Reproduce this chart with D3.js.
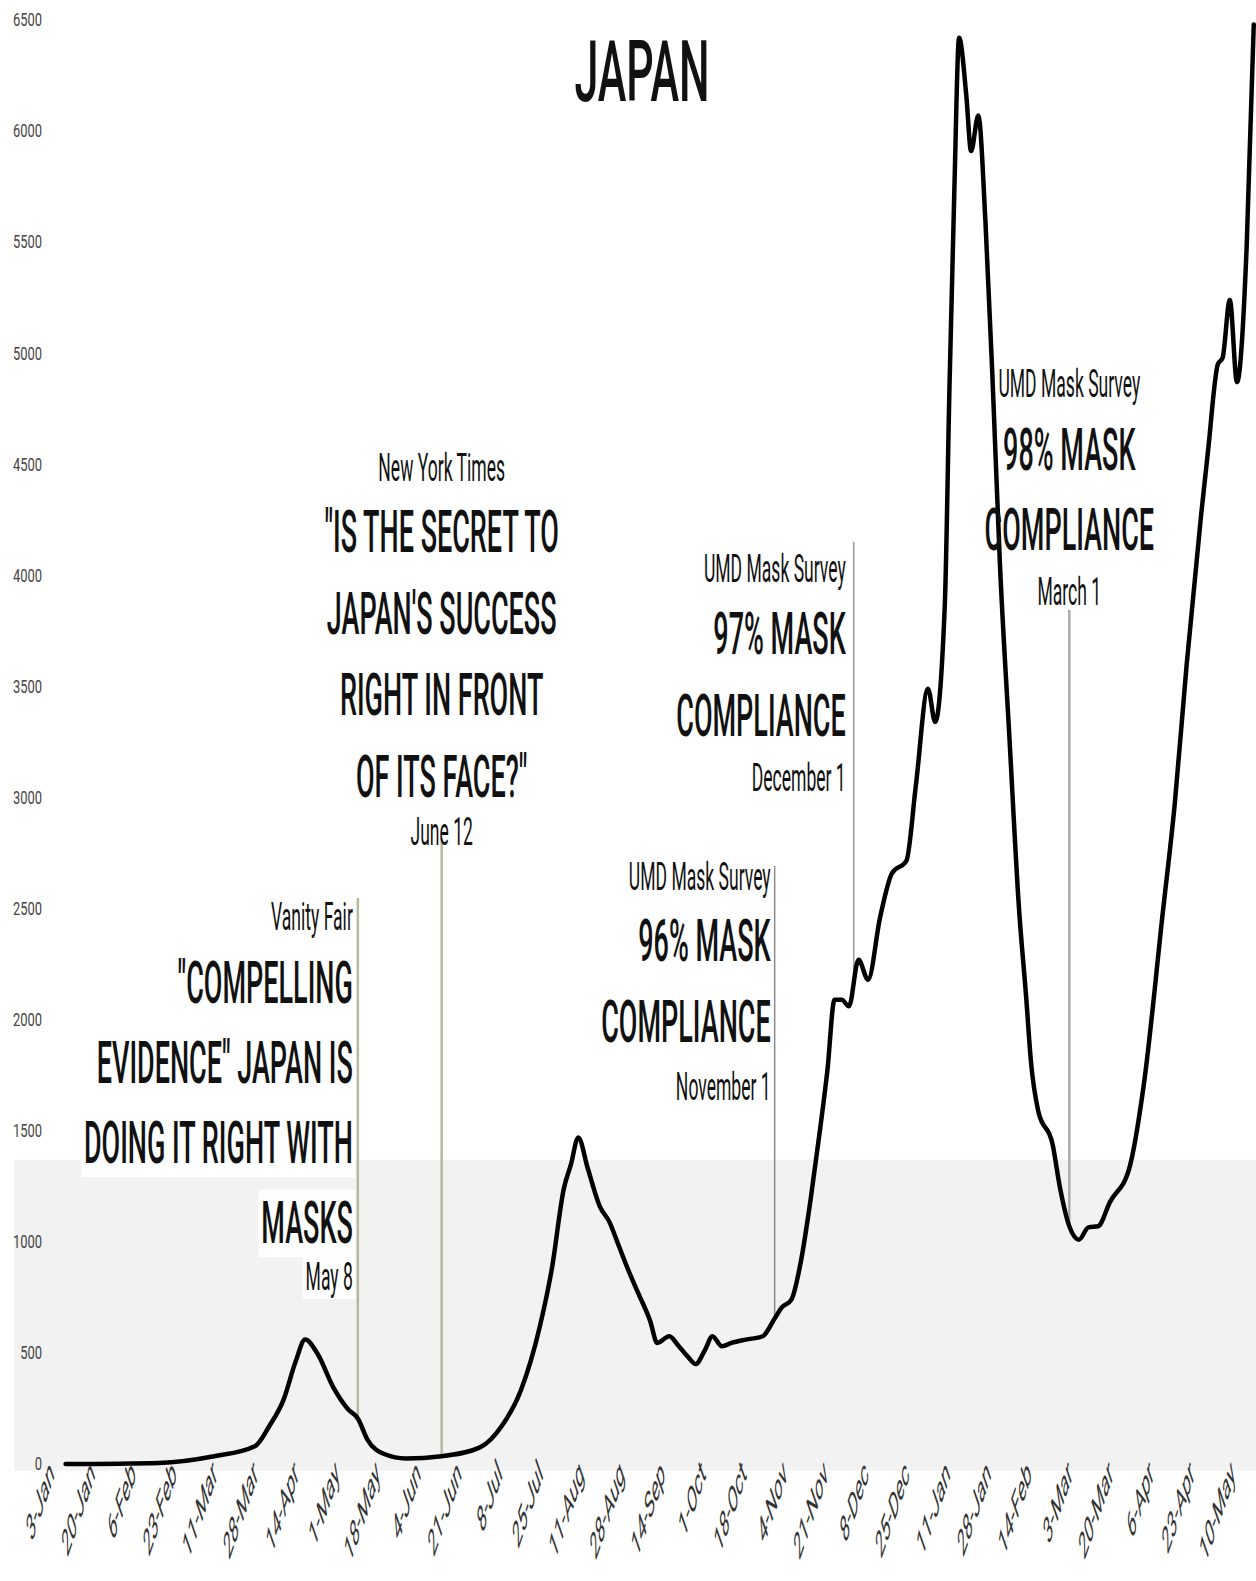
<!DOCTYPE html>
<html>
<head>
<meta charset="utf-8">
<script src="https://cdn.jsdelivr.net/npm/d3@7"></script>
<style>
  body { margin: 0; background: #fff; }
  svg { display: block; font-family: Roboto, "Noto Sans", sans-serif; }
</style>
</head>
<body>
<svg id="chart"></svg>
<script>
// daily new cases, 7-day average
const dates = [
  "2020-01-07", "2020-02-15", "2020-03-09", "2020-03-26", "2020-04-01", "2020-04-07", "2020-04-12", "2020-04-16",
  "2020-04-21", "2020-04-28", "2020-05-04", "2020-05-08", "2020-05-12", "2020-05-19", "2020-05-28", "2020-06-12",
  "2020-06-28", "2020-07-07", "2020-07-15", "2020-07-23", "2020-07-28", "2020-08-02", "2020-08-05", "2020-08-08",
  "2020-08-12", "2020-08-17", "2020-08-21", "2020-08-25", "2020-08-29", "2020-09-02", "2020-09-07", "2020-09-10",
  "2020-09-15", "2020-09-19", "2020-09-23", "2020-09-26", "2020-09-30", "2020-10-03", "2020-10-07", "2020-10-11",
  "2020-10-17", "2020-10-24", "2020-10-29", "2020-11-01", "2020-11-05", "2020-11-09", "2020-11-13", "2020-11-17",
  "2020-11-20", "2020-11-23", "2020-11-26", "2020-11-29", "2020-12-03", "2020-12-07", "2020-12-12", "2020-12-17",
  "2020-12-23", "2020-12-27", "2021-01-01", "2021-01-04", "2021-01-08", "2021-01-10", "2021-01-12", "2021-01-14",
  "2021-01-17", "2021-01-19", "2021-01-22", "2021-01-25", "2021-01-28", "2021-01-31", "2021-02-04", "2021-02-08",
  "2021-02-11", "2021-02-13", "2021-02-16", "2021-02-22", "2021-02-25", "2021-03-01", "2021-03-05", "2021-03-09",
  "2021-03-13", "2021-03-18", "2021-03-26", "2021-04-01", "2021-04-09", "2021-04-14", "2021-04-19", "2021-04-25",
  "2021-04-28", "2021-05-02", "2021-05-04", "2021-05-07", "2021-05-10", "2021-05-14", "2021-05-17"
]
const cases = [
  0, 5, 35, 80, 170, 290, 460, 560,
  500, 340, 245, 205, 110, 45, 25, 35,
  75, 170, 330, 620, 880, 1240, 1350, 1470,
  1330, 1160, 1090, 980, 870, 770, 645, 545,
  575, 530, 480, 450, 515, 575, 530, 545,
  560, 575, 655, 705, 740, 915, 1190, 1510,
  1770, 2090, 2090, 2060, 2270, 2180, 2460, 2660,
  2715, 3060, 3490, 3340, 3860, 4860, 5730, 6420,
  6160, 5910, 6070, 5590, 4870, 4060, 3270, 2500,
  2100, 1810, 1590, 1440, 1250, 1070, 1010, 1065,
  1070, 1180, 1330, 1700, 2480, 2970, 3600, 4270,
  4570, 4950, 4980, 5240, 4870, 5470, 6480
]

const xTickDates = [
  "2020-01-03", "2020-01-20", "2020-02-06", "2020-02-23", "2020-03-11", "2020-03-28", "2020-04-14", "2020-05-01",
  "2020-05-18", "2020-06-04", "2020-06-21", "2020-07-08", "2020-07-25", "2020-08-11", "2020-08-28", "2020-09-14",
  "2020-10-01", "2020-10-18", "2020-11-04", "2020-11-21", "2020-12-08", "2020-12-25", "2021-01-11", "2021-01-28",
  "2021-02-14", "2021-03-03", "2021-03-20", "2021-04-06", "2021-04-23", "2021-05-10"
]
const yTicks = [0, 500, 1000, 1500, 2000, 2500, 3000, 3500, 4000, 4500, 5000, 5500, 6000, 6500]

const noteDates = ["2020-05-08", "2020-06-12", "2020-10-29", "2020-12-01", "2021-03-01"]
const noteSources = ["Vanity Fair", "New York Times", "UMD Mask Survey", "UMD Mask Survey", "UMD Mask Survey"]
const noteHeadlines = [
    ["\"COMPELLING", "EVIDENCE\" JAPAN IS", "DOING IT RIGHT WITH", "MASKS"],
    ["\"IS THE SECRET TO", "JAPAN'S SUCCESS", "RIGHT IN FRONT", "OF ITS FACE?\""],
    ["96% MASK", "COMPLIANCE"],
    ["97% MASK", "COMPLIANCE"],
    ["98% MASK", "COMPLIANCE"]
]
const noteDateLabels = ["May 8", "June 12", "November 1", "December 1", "March 1"]

// layout of the notes (where each block sits relative to its line)
const noteLayout = [
    { anchor: "end", dx: -5, srcY: 930, headY: 1003, step: 80, dateY: 1290, top: 898, stroke: "#b8b89c", sw: 2.5 },
    { anchor: "middle", dx: 0, srcY: 481, headY: 552, step: 81.5, dateY: 845, top: 838, stroke: "#b8b89c", sw: 2.5 },
    { anchor: "end", dx: -4, srcY: 890, headY: 961, step: 81, dateY: 1100, top: 866, stroke: "#8a8a8a", sw: 1.5 },
    { anchor: "end", dx: -8, srcY: 582, headY: 654, step: 82, dateY: 791, top: 542, stroke: "#999", sw: 1.5 },
    { anchor: "middle", dx: 0, srcY: 397, headY: 470, step: 80, dateY: 605, top: 610, stroke: "#aaa", sw: 2.5 }
]

const width = 1256
const height = 1581
const squish = 0.45

const parse = d3.utcParse("%Y-%m-%d")
const data = dates.map((d, i) => ({ date: parse(d), value: cases[i] }))

const svg = d3.select("#chart")
    .attr("width", width)
    .attr("height", height)
    .attr("viewBox", [0, 0, width, height])

const x = d3.scaleUtc()
    .domain([parse("2020-01-03"), parse("2021-05-10")])
    .range([56, 1237])

const y = d3.scaleLinear()
    .domain([0, 6500])
    .range([1464, 20])

// light band behind the low part of the chart
svg.append("rect")
    .attr("x", 14).attr("y", y(1370))
    .attr("width", width - 14).attr("height", y(-30) - y(1370))
    .attr("fill", "#f2f2f2")

const bgLayer = svg.append("g")
const lineLayer = svg.append("g")
const curveLayer = svg.append("g")
const textLayer = svg.append("g")

// value on the curve at a date, for where a note line stops
function valueAt(date) {
    const i = d3.bisector(d => d.date).left(data, date)
    if (i <= 0) return data[0].value
    if (i >= data.length) return data[data.length - 1].value
    const a = data[i - 1], b = data[i]
    const t = (date - a.date) / (b.date - a.date)
    return a.value + t * (b.value - a.value)
}

function addText(str, px, py, size, weight, anchor, sx, withBg) {
    const tf = `translate(${px},${py}) scale(${sx},1)`
    const t = textLayer.append("text")
        .attr("transform", tf)
        .attr("text-anchor", anchor)
        .attr("font-size", size)
        .attr("font-weight", weight)
        .attr("fill", "#111")
        .text(str)
    if (withBg) {
        const b = t.node().getBBox()
        bgLayer.append("rect")
            .attr("transform", tf)
            .attr("x", b.x - 6).attr("y", b.y + 2)
            .attr("width", b.width + 12).attr("height", b.height - 2)
            .attr("fill", "#fff")
    }
    return t
}

// title
addText("JAPAN", 642, 101, 86, 500, "middle", 0.5, false)

// y axis labels
svg.append("g")
    .selectAll("text")
    .data(yTicks)
    .join("text")
    .attr("transform", d => `translate(42,${y(d)}) scale(0.72,1)`)
    .attr("text-anchor", "end")
    .attr("dominant-baseline", "central")
    .attr("font-size", 18)
    .attr("fill", "#444")
    .text(d => d)

// x axis labels
const fmt = d3.utcFormat("%-d-%b")
svg.append("g")
    .selectAll("text")
    .data(xTickDates.map(parse))
    .join("text")
    .attr("transform", d => `translate(${x(d) - 1},1476) scale(0.78,2.25) rotate(-45)`)
    .attr("text-anchor", "end")
    .attr("font-size", 17)
    .attr("fill", "#333")
    .text(d => fmt(d))

// notes
noteDates.forEach((ds, i) => {
    const L = noteLayout[i]
    const d = parse(ds)
    const lx = x(d)
    lineLayer.append("line")
        .attr("x1", lx).attr("x2", lx)
        .attr("y1", L.top).attr("y2", y(valueAt(d)))
        .attr("stroke", L.stroke)
        .attr("stroke-width", L.sw)
    const tx = lx + L.dx
    addText(noteSources[i], tx, L.srcY, 39, 400, L.anchor, squish, true)
    noteHeadlines[i].forEach((h, j) => {
        addText(h, tx, L.headY + j * L.step, 60, 500, L.anchor, squish, true)
    })
    addText(noteDateLabels[i], tx, L.dateY, 39, 400, L.anchor, squish, true)
})

// the curve
const line = d3.line()
    .x(d => x(d.date))
    .y(d => y(d.value))
    .curve(d3.curveMonotoneX)

curveLayer.append("path")
    .datum(data)
    .attr("d", line)
    .attr("fill", "none")
    .attr("stroke", "#000")
    .attr("stroke-width", 4.5)
    .attr("stroke-linejoin", "round")
    .attr("stroke-linecap", "round")
</script>
</body>
</html>
